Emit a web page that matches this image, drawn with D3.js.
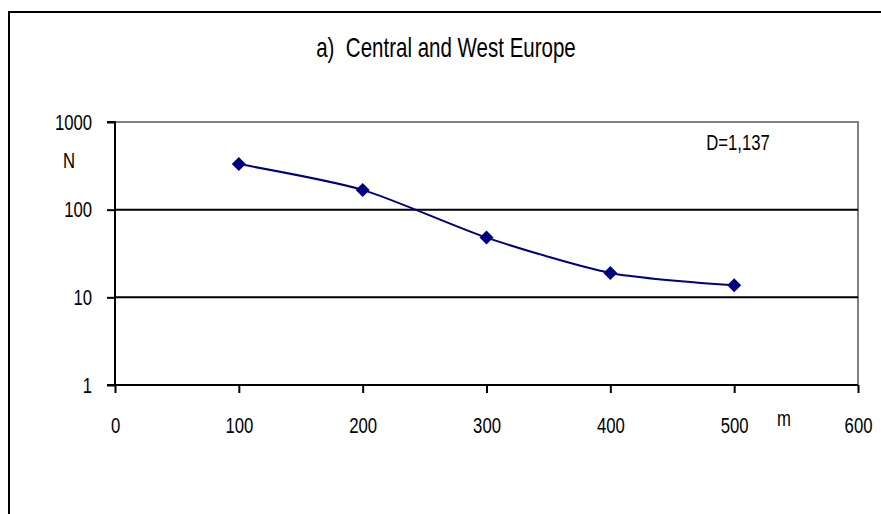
<!DOCTYPE html>
<html>
<head>
<meta charset="utf-8">
<script src="https://cdn.jsdelivr.net/npm/d3@7"></script>
<style>
  body { margin: 0; background: #fff; }
  svg { display: block; }
  text { font-family: "Liberation Sans", Arial, sans-serif; fill: #000; }
  /* condensed lettering */
  text.narrow { transform-box: fill-box; transform: scaleX(0.76); }
  text.narrow.mid { transform-origin: center center; }
  text.narrow.end { transform-origin: right center; }
</style>
</head>
<body>
<svg id="chart" width="881" height="514"></svg>
<script>
// Number of events N against threshold m, log scale
const thresholds = [100, 200, 300, 400, 500];
const counts = [331, 168, 48, 19, 13.7];
const xTicks = [0, 100, 200, 300, 400, 500, 600];
const yTicks = [1, 10, 100, 1000];
const titleText = "a)  Central and West Europe";
const noteText = "D=1,137";

const svg = d3.select("#chart");
const W = 881, H = 514;
const plot = { left: 115, right: 858, top: 122, bottom: 385 };
const fs = 22;

// outer frame
svg.append("path")
  .attr("d", `M9,${H + 2} V12 H${W + 2}`)
  .attr("fill", "none").attr("stroke", "#000").attr("stroke-width", 2);

const x = d3.scaleLinear().domain([0, 600]).range([plot.left, plot.right]);
const y = d3.scaleLog().domain([1, 1000]).range([plot.bottom, plot.top]);

// plot-area top and right edges
svg.append("path")
  .attr("d", `M${plot.left},${plot.top} H${plot.right} V${plot.bottom}`)
  .attr("fill", "none").attr("stroke", "#808080").attr("stroke-width", 2);

// horizontal gridlines at 10 and 100
svg.append("g").selectAll("line")
  .data(yTicks.filter(d => d > 1 && d < 1000))
  .join("line")
  .attr("x1", plot.left).attr("x2", plot.right)
  .attr("y1", d => y(d)).attr("y2", d => y(d))
  .attr("stroke", "#000").attr("stroke-width", 2);

// y axis
const yAxis = svg.append("g")
  .attr("transform", `translate(${plot.left},0)`)
  .call(d3.axisLeft(y).tickValues(yTicks).tickFormat(d3.format("d")).tickSize(8).tickPadding(15));
yAxis.select(".domain").attr("stroke", "#000").attr("stroke-width", 2).attr("d", `M-8,${plot.top}H0V${plot.bottom}H-8`);
yAxis.selectAll(".tick line").attr("stroke", "#000").attr("stroke-width", 2);
yAxis.selectAll(".tick text").attr("font-size", fs).attr("font-family", null)
  .attr("class", "narrow end");

// x axis
const xAxis = svg.append("g")
  .attr("transform", `translate(0,${plot.bottom})`)
  .call(d3.axisBottom(x).tickValues(xTicks).tickFormat(d3.format("d")).tickSize(8).tickPadding(24));
xAxis.select(".domain").attr("stroke", "#000").attr("stroke-width", 2).attr("d", `M${plot.left},0H${plot.right}`);
xAxis.selectAll(".tick line").attr("stroke", "#000").attr("stroke-width", 2);
xAxis.selectAll(".tick text").attr("font-size", fs).attr("font-family", null)
  .attr("class", "narrow mid");

// data line (smoothed) and diamond markers
const pts = thresholds.map((t, i) => [t, counts[i]]);
svg.append("path")
  .datum(pts)
  .attr("fill", "none")
  .attr("stroke", "#000080")
  .attr("stroke-width", 2)
  .attr("d", d3.line().x(d => x(d[0])).y(d => y(d[1])).curve(d3.curveCardinal.tension(0.3)));

svg.append("g").selectAll("path")
  .data(pts)
  .join("path")
  .attr("transform", d => `translate(${x(d[0])},${y(d[1])})`)
  .attr("d", "M0,-7L7,0L0,7L-7,0Z")
  .attr("fill", "#000080");

// titles and labels
svg.append("text").attr("x", 446).attr("y", 57).attr("text-anchor", "middle")
  .attr("class", "narrow mid").style("white-space", "pre")
  .attr("font-size", 27).text(titleText);
svg.append("text").attr("x", 69).attr("y", 168).attr("text-anchor", "middle")
  .attr("class", "narrow mid").attr("font-size", fs).text("N");
svg.append("text").attr("x", 784).attr("y", 426).attr("text-anchor", "middle")
  .attr("class", "narrow mid").attr("font-size", fs).text("m");
svg.append("text").attr("x", 738).attr("y", 150).attr("text-anchor", "middle")
  .attr("class", "narrow mid").attr("font-size", fs).text(noteText);
</script>
</body>
</html>
